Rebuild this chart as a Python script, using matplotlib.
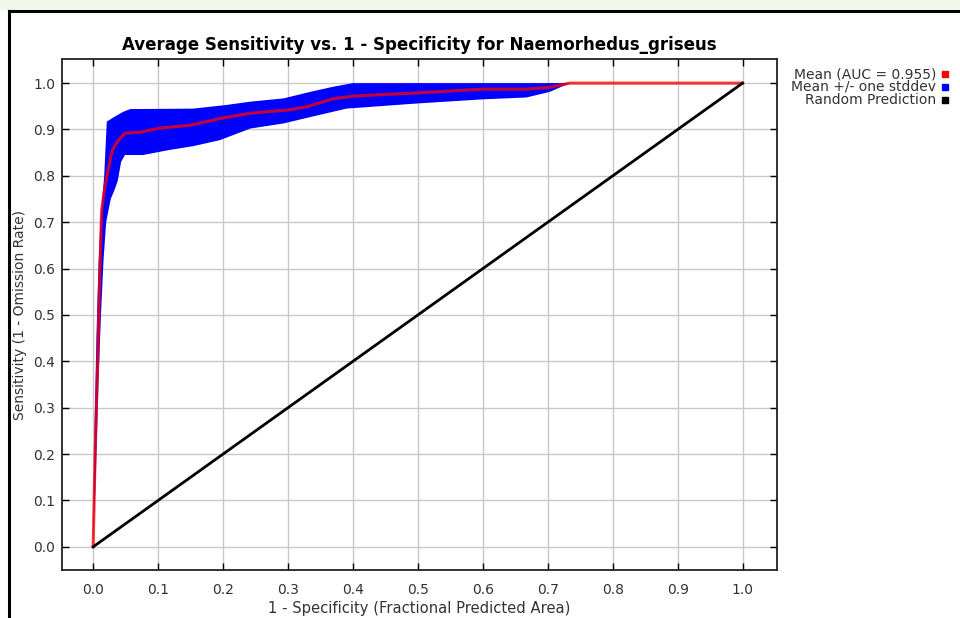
import matplotlib
matplotlib.use("Agg")
import matplotlib.pyplot as plt
from matplotlib.lines import Line2D
from matplotlib.patches import Rectangle

plt.rcParams['font.family'] = ['DejaVu Sans']

# ---- data ----
mean_x = [0, 0.003, 0.007, 0.010, 0.013, 0.018, 0.023, 0.027, 0.031, 0.039, 0.049, 0.072,
          0.103, 0.149, 0.2, 0.242, 0.3, 0.329, 0.369, 0.4, 0.5, 0.6, 0.667, 0.703, 0.734, 1.0]
mean_y = [0, 0.2, 0.4, 0.58, 0.726, 0.776, 0.8125, 0.841, 0.86, 0.877, 0.892, 0.894,
          0.903, 0.909, 0.925, 0.935, 0.942, 0.949, 0.966, 0.972, 0.979, 0.987, 0.987, 0.991, 1.0, 1.0]

upper_x = [0, 0.002, 0.005, 0.008, 0.011, 0.014, 0.017, 0.019, 0.021, 0.03, 0.046, 0.057,
           0.154, 0.206, 0.242, 0.293, 0.334, 0.369, 0.4, 1.0]
upper_y = [0, 0.25, 0.45, 0.6, 0.7, 0.75, 0.80, 0.86, 0.917, 0.925, 0.938, 0.944,
           0.945, 0.953, 0.96, 0.967, 0.981, 0.992, 1.0, 1.0]

lower_x = [0, 0.004, 0.008, 0.012, 0.016, 0.02, 0.027, 0.033, 0.038, 0.043, 0.049, 0.077,
           0.118, 0.154, 0.195, 0.242, 0.293, 0.329, 0.39, 0.498, 0.6, 0.667, 0.703, 0.734, 1.0]
lower_y = [0, 0.15, 0.35, 0.5, 0.62, 0.70, 0.75, 0.77, 0.79, 0.83, 0.845, 0.845,
           0.856, 0.864, 0.877, 0.902, 0.913, 0.925, 0.945, 0.956, 0.965, 0.969, 0.981, 1.0, 1.0]

random_x = [0, 1]
random_y = [0, 1]

ticks = [0.0, 0.1, 0.2, 0.3, 0.4, 0.5, 0.6, 0.7, 0.8, 0.9, 1.0]
tick_labels = ["0.0", "0.1", "0.2", "0.3", "0.4", "0.5", "0.6", "0.7", "0.8", "0.9", "1.0"]

legend_labels = ["Mean (AUC = 0.955)", "Mean +/- one stddev", "Random Prediction"]
legend_colors = ["#ff0000", "#0000ff", "#000000"]

title = "Average Sensitivity vs. 1 - Specificity for Naemorhedus_griseus"
xlabel = "1 - Specificity (Fractional Predicted Area)"
ylabel = "Sensitivity (1 - Omission Rate)"

# ---- figure ----
W, H = 960, 618
fig = plt.figure(figsize=(W / 100, H / 100), dpi=100)
fig.patch.set_facecolor("white")

# watermark strip above the frame and the black frame lines
fig.add_artist(Rectangle((0, 1 - 10 / H), 1, 10 / H, transform=fig.transFigure,
                         facecolor="#f2f7ec", edgecolor="none", zorder=0))
fig.add_artist(Line2D([9 / W, 1], [1 - 11 / H, 1 - 11 / H], transform=fig.transFigure,
                      color="black", lw=2.2))
fig.add_artist(Line2D([9 / W, 9 / W], [0, 1 - 11 / H], transform=fig.transFigure,
                      color="black", lw=2.2))

ax = fig.add_axes([62 / W, (H - 570) / H, 715 / W, 511 / H])
ax.set_xlim(-0.048, 1.053)
ax.set_ylim(-0.05, 1.052)

ax.grid(True, color="#c8c8c8", lw=1.0)
ax.set_axisbelow(True)

ax.fill(upper_x + lower_x[::-1], upper_y + lower_y[::-1], color="#0000ff", lw=0, zorder=2)
ax.plot(mean_x, mean_y, color="#ff0000", alpha=0.78, lw=2.2, zorder=3)
ax.plot(random_x, random_y, color="black", lw=2.0, zorder=3)

ax.set_xticks(ticks)
ax.set_xticklabels(tick_labels)
ax.set_yticks(ticks)
ax.set_yticklabels(tick_labels)
ax.tick_params(direction="in", length=5, width=1, top=True, right=True,
               labelsize=10, labelcolor="#333333")
ax.tick_params(axis="x", pad=9)
ax.tick_params(axis="y", pad=5)
for s in ax.spines.values():
    s.set_color("#222222")
    s.set_linewidth(1.3)

ax.set_title(title, fontsize=12, fontweight="bold", y=(570 - 45) / 511, va="center", pad=0)
ax.set_xlabel(xlabel, fontsize=10.6, color="#333333")
ax.xaxis.set_label_coords(0.5, (570 - 609) / 511)
ax.xaxis.label.set_verticalalignment("center")
ax.set_ylabel(ylabel, fontsize=10, color="#333333")
ax.yaxis.set_label_coords((20 - 62) / 715, 0.5)
ax.yaxis.label.set_verticalalignment("center")
ax.yaxis.label.set_horizontalalignment("center")

# legend on the right: text right-aligned with small squares
for i, (lab, col) in enumerate(zip(legend_labels, legend_colors)):
    y = 1 - (74 + i * 13) / H
    fig.text(936 / W, y, lab, ha="right", va="center", fontsize=10, color="#333333")
    fig.add_artist(Line2D([945 / W], [y], transform=fig.transFigure, marker="s",
                          markersize=5, color=col, lw=0))

fig.savefig("out.png", dpi=100)
